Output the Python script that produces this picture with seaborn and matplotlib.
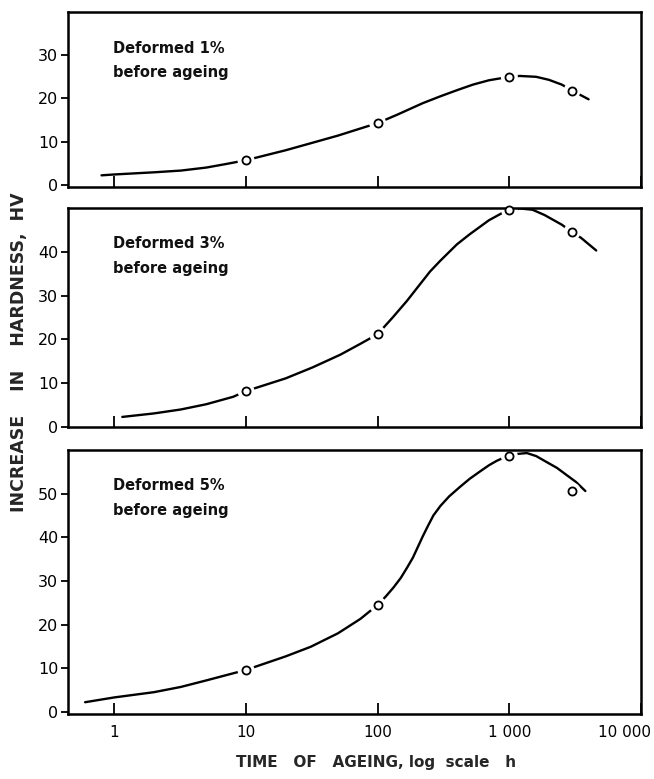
import matplotlib
matplotlib.use("Agg")
import matplotlib.pyplot as plt
from matplotlib.ticker import NullLocator, FixedLocator, FixedFormatter
from matplotlib.transforms import offset_copy
import seaborn as sns

sns.set_style("ticks")
plt.rcParams["font.family"] = ["DejaVu Sans"]

# Measured hardness increase (HV) after ageing for the given times (h)
meas_time = [10, 100, 1000, 3000]
meas_1pct = [5.7, 14.3, 25.0, 21.8]
meas_3pct = [8.2, 21.2, 49.6, 44.6]
meas_5pct = [9.6, 24.5, 58.6, 50.6]

# Hand-faired trend curves through the measurements
curve_time_1pct = [0.8, 1, 2, 3.2, 5, 7, 10, 20, 30, 50, 100, 140, 220, 300,
                   400, 530, 700, 1000, 1200, 1600, 2000, 2500, 3000, 4000]
curve_hv_1pct = [2.2, 2.4, 2.9, 3.3, 4.0, 4.8, 5.7, 8.0, 9.5, 11.4, 14.3, 16.2,
                 18.9, 20.5, 21.9, 23.2, 24.2, 25.0, 25.2, 25.0, 24.3, 23.2,
                 21.8, 19.8]

curve_time_3pct = [1.15, 2, 3.2, 5, 8, 10, 20, 32, 52, 74, 100, 130, 167, 200,
                   250, 300, 400, 500, 700, 900, 1000, 1200, 1500, 1850, 2500,
                   3000, 3500, 4570]
curve_hv_3pct = [2.3, 3.1, 4.0, 5.2, 6.9, 8.2, 11.1, 13.6, 16.5, 19.0, 21.2,
                 25.0, 28.8, 31.8, 35.5, 38.0, 41.7, 44.0, 47.2, 49.0, 49.5,
                 49.9, 49.6, 48.4, 46.2, 44.5, 43.2, 40.3]

curve_time_5pct = [0.6, 1, 2, 3.2, 5, 10, 20, 31, 50, 74, 100, 115, 132, 150,
                   167, 185, 200, 220, 240, 265, 300, 350, 424, 500, 600, 700,
                   800, 900, 1000, 1150, 1360, 1600, 1930, 2300, 2740, 3200,
                   3780]
curve_hv_5pct = [2.2, 3.3, 4.5, 5.7, 7.2, 9.6, 12.7, 14.9, 18.0, 21.3, 24.5,
                 26.4, 28.5, 30.7, 33.0, 35.3, 37.5, 40.2, 42.5, 45.0, 47.2,
                 49.4, 51.6, 53.4, 55.1, 56.5, 57.5, 58.2, 58.6, 59.1, 59.3,
                 58.6, 57.2, 55.9, 54.2, 52.7, 50.6]

panel_labels = ["Deformed 1%\nbefore ageing",
                "Deformed 3%\nbefore ageing",
                "Deformed 5%\nbefore ageing"]
y_ticks = [[0, 10, 20, 30], [0, 10, 20, 30, 40], [0, 10, 20, 30, 40, 50]]
y_limits = [(-0.5, 40), (0, 50), (-0.5, 60)]
x_tick_values = [1, 10, 100, 1000, 10000]
x_tick_labels = ["1", "10", "100", "1 000", "10 000"]

panels = [
    (curve_time_1pct, curve_hv_1pct, meas_1pct),
    (curve_time_3pct, curve_hv_3pct, meas_3pct),
    (curve_time_5pct, curve_hv_5pct, meas_5pct),
]

W, H = 654, 779
fig = plt.figure(figsize=(W / 100, H / 100), dpi=100)

# axes boxes in pixel units: (left, top, right, bottom)
boxes = [(68, 12, 641, 187), (68, 208, 641, 427), (68, 450, 641, 714)]
label_pos = [0.835, 0.872, 0.893]

for i, ((ct, cv, mv), box) in enumerate(zip(panels, boxes)):
    l, t, r, b = box
    ax = fig.add_axes([l / W, 1 - b / H, (r - l) / W, (b - t) / H])
    ax.set_xscale("log")
    ax.set_xlim(0.445, 10000)
    ax.set_ylim(*y_limits[i])

    sns.lineplot(x=ct, y=cv, ax=ax, color="black", lw=1.7,
                 estimator=None, sort=False, zorder=2)
    # white halo leaves a small gap in the curve around each open circle
    sns.scatterplot(x=meas_time, y=mv, ax=ax, s=150, color="white",
                    edgecolor="none", zorder=2.2)
    sns.scatterplot(x=meas_time, y=mv, ax=ax, s=34, facecolor="white",
                    edgecolor="black", linewidth=1.3, zorder=4, clip_on=False)

    for sp in ax.spines.values():
        sp.set_visible(True)
        sp.set_linewidth(1.8)
        sp.set_color("black")

    ax.xaxis.set_major_locator(FixedLocator(x_tick_values))
    ax.xaxis.set_minor_locator(NullLocator())
    ax.set_yticks(y_ticks[i])
    ax.tick_params(axis="x", direction="in", length=8, width=1.3,
                   colors="black", labelsize=11, pad=8)
    ax.tick_params(axis="y", direction="out", length=5, width=1.3,
                   colors="black", labelsize=11.5, pad=2)
    if i == 2:
        ax.xaxis.set_major_formatter(FixedFormatter(x_tick_labels))
        last = ax.get_xticklabels()[-1]
        last.set_horizontalalignment("right")
        last.set_transform(offset_copy(last.get_transform(), fig=fig,
                                       x=10, y=0, units="dots"))
    else:
        ax.set_xticklabels([])
    ax.set_xlabel("")
    ax.set_ylabel("")

    ax.text(0.079, label_pos[i], panel_labels[i], transform=ax.transAxes,
            ha="left", va="top", fontsize=10.5, fontweight="bold",
            linespacing=1.8, color="#111111")

fig.text(376 / W, 1 - 763 / H, "TIME   OF   AGEING, log  scale   h",
         ha="center", va="center", fontsize=11, fontweight="bold")
fig.text(19 / W, 1 - 352 / H, "INCREASE    IN    HARDNESS,  HV",
         ha="center", va="center", rotation=90, fontsize=12.5,
         fontweight="bold")

fig.savefig("out.png", dpi=100, facecolor="white")
